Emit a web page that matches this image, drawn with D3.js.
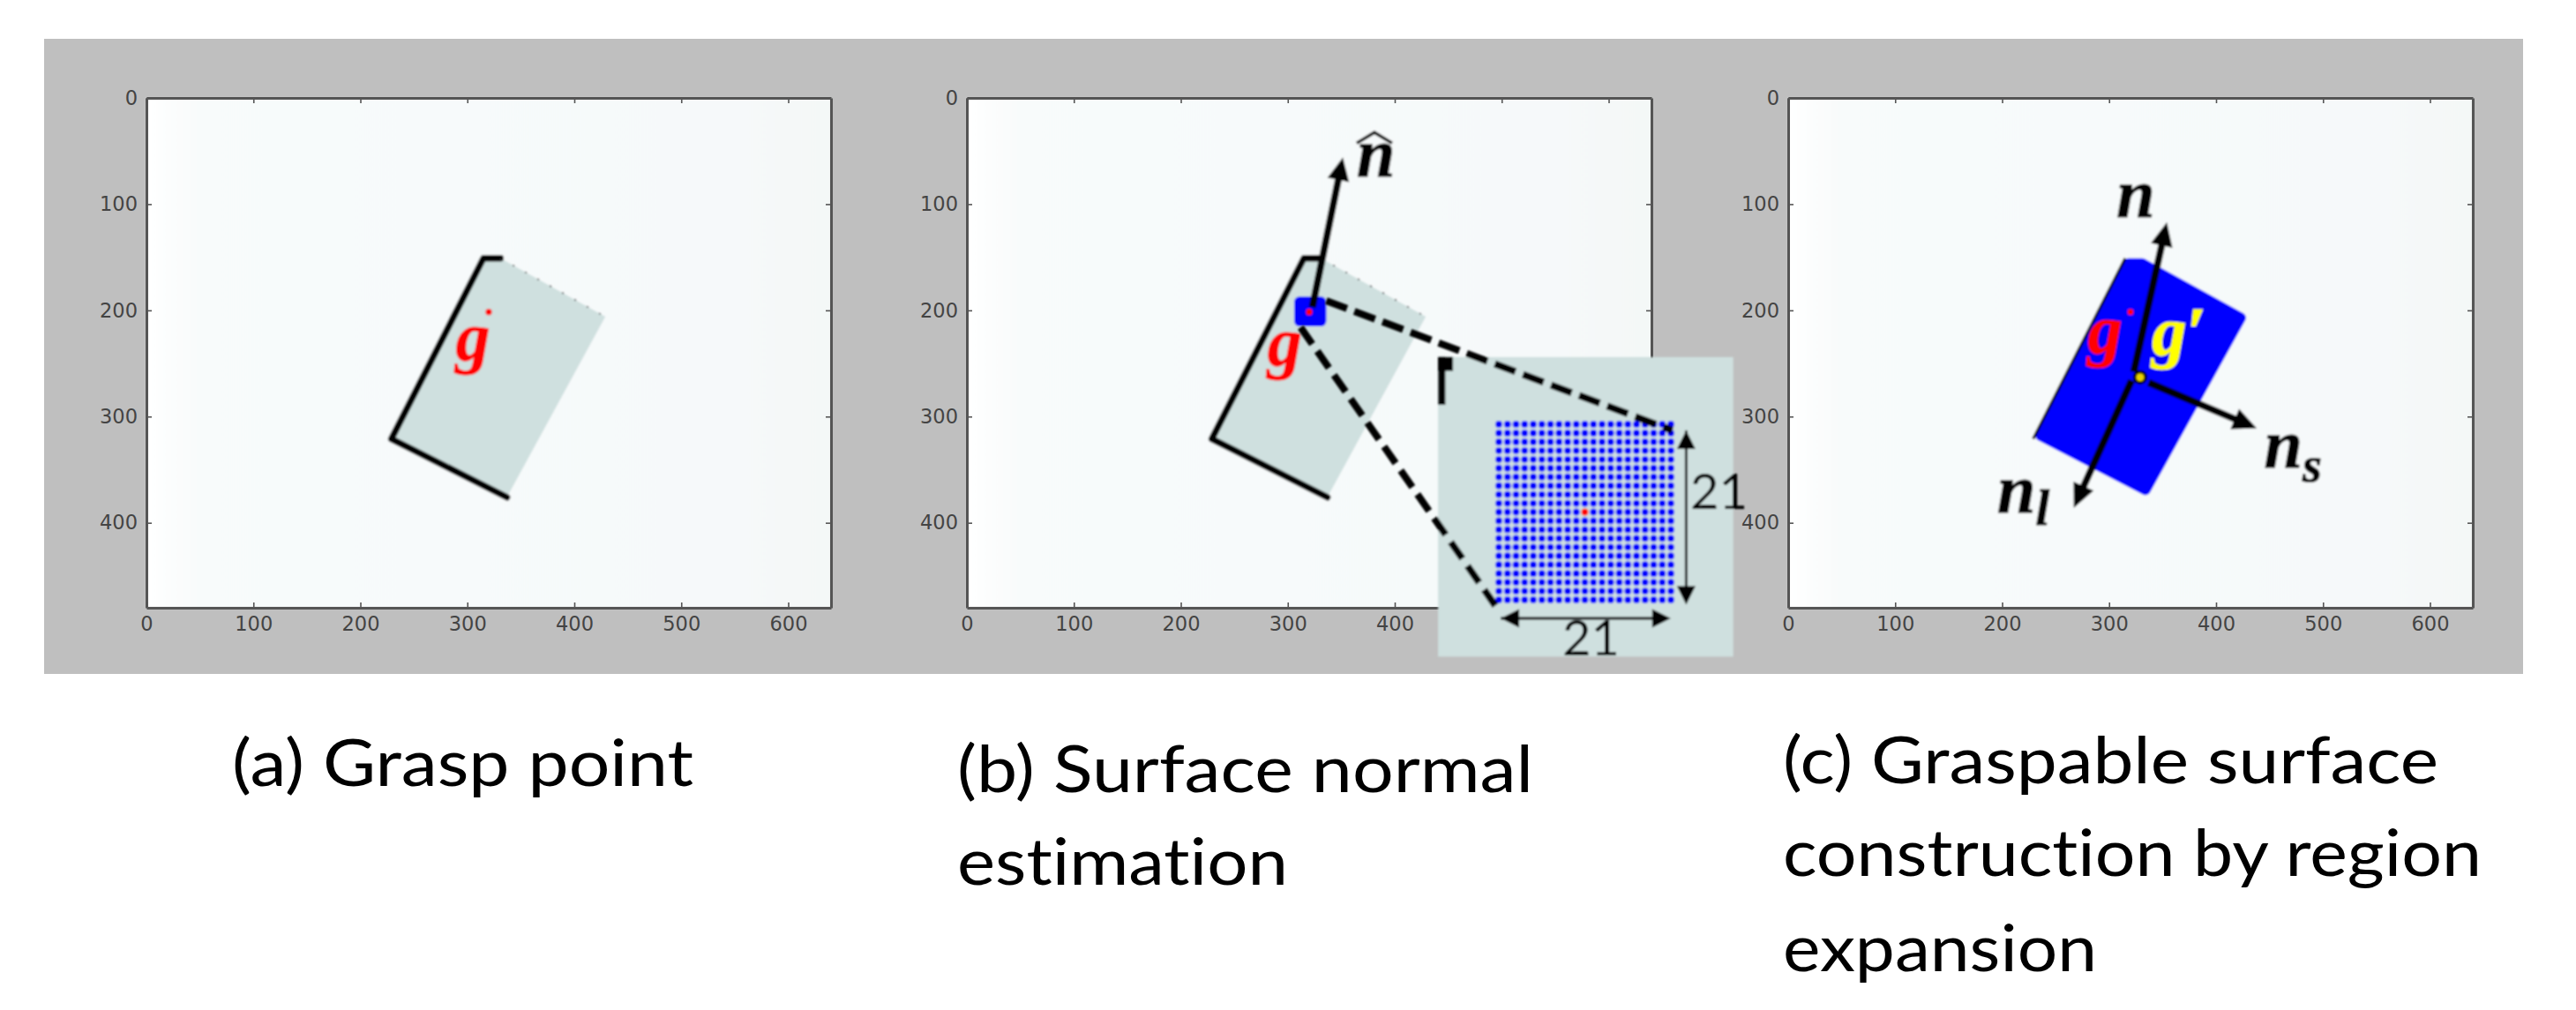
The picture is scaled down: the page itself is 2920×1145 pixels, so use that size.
<!DOCTYPE html>
<html>
<head>
<meta charset="utf-8">
<style>
  html, body { margin: 0; padding: 0; background: #fff; }
  svg { display: block; }
  .axis text { font-family: "DejaVu Sans"; font-size: 22.5px; fill: #444; }
  .axis line { stroke: #555; stroke-width: 1.6; }
  .math { font-family: "Liberation Serif"; font-style: italic; font-weight: bold; font-size: 78px; stroke-width: 1.2; }
  .caption { font-family: "Lato"; font-size: 74px; fill: #000; font-variant-ligatures: none; }
  .dim { font-family: "Lato"; font-size: 56px; fill: #000; }
</style>
<script src="https://cdn.jsdelivr.net/npm/d3@7"></script>
</head>
<body>
<svg id="chart" width="2920" height="1145"></svg>
<script>
// image coordinates, same for all three panels
const xTicks = [0, 100, 200, 300, 400, 500, 600];
const yTicks = [0, 100, 200, 300, 400];
const xTicksB = [0, 100, 200, 300, 400];   // the rest sit under the inset
const xDomain = [0, 640];
const yDomain = [0, 480];

const surface = [[315, 151], [331, 151], [429, 206], [337, 376], [229, 321]];
const surfaceGrown = [[318, 156], [331, 156], [423, 207], [334, 369], [236, 318]];
const darkEdge = [[331, 151], [315, 151], [229, 321], [337, 376]];
const dottedEdge = [[331, 151], [429, 206]];
const graspPoint = [320, 201.5];

// panel b
const patch = [[306, 187], [336, 215]];
const normalHat = [[323, 197], [351.5, 56]];
const hatMark = [[364.5, 42.5], [381, 32.5], [397.5, 42.5]];
const insetBox = [[440.5, 244], [716.5, 526]];
const insetFlag = [[440.5, 244], [454.5, 257]];
const insetStub = [[444, 244], [444, 289]];
const zoomLineTop = [[336, 191], [659.5, 313]];
const zoomLineBottom = [[312, 216], [494, 478]];
const patchIndex = [-10, -9, -8, -7, -6, -5, -4, -3, -2, -1, 0, 1, 2, 3, 4, 5, 6, 7, 8, 9, 10];
const dimV = [[672.5, 313], [672.5, 477]];
const dimH = [[499, 490], [658, 490]];

// panel c
const normalN = [[323, 258], [354, 117]];
const normalL = [[321, 266], [267, 386]];
const normalS = [[337, 268], [438, 311]];
const centerPoint = [329, 263];

const captionA = ["(a) Grasp point"];
const captionB = ["(b) Surface normal", "estimation"];
const captionC = ["(c) Graspable surface", "construction by region", "expansion"];

const svg = d3.select("#chart");
const defs = svg.append("defs");

let grad = defs.append("linearGradient").attr("id", "bgGrad");
grad.append("stop").attr("offset", "0").attr("stop-color", "#ffffff");
grad.append("stop").attr("offset", "0.08").attr("stop-color", "#f8fbfb");
grad.append("stop").attr("offset", "0.85").attr("stop-color", "#f6f9fa");
grad.append("stop").attr("offset", "1").attr("stop-color", "#f4f8f7");

defs.append("filter").attr("id", "soft")
    .append("feGaussianBlur").attr("stdDeviation", 0.8);

svg.append("rect")
    .attr("x", 50).attr("y", 44)
    .attr("width", 2810).attr("height", 720)
    .attr("fill", "#bfbfbf");

const line = d3.line();

function drawArrow(g, pts, x, y, width, headLen, headWide, bothEnds) {
    const x0 = x(pts[0][0]), y0 = y(pts[0][1]), x1 = x(pts[1][0]), y1 = y(pts[1][1]);
    const len = Math.hypot(x1 - x0, y1 - y0);
    const ux = (x1 - x0) / len, uy = (y1 - y0) / len;
    const head = (hx, hy, dx, dy) => {
        g.append("path")
            .attr("d", line([
                [hx, hy],
                [hx - dx * headLen - dy * headWide / 2, hy - dy * headLen + dx * headWide / 2],
                [hx - dx * headLen + dy * headWide / 2, hy - dy * headLen - dx * headWide / 2]
            ]) + "Z")
            .attr("fill", "#000");
    };
    g.append("line")
        .attr("x1", x0).attr("y1", y0)
        .attr("x2", x1 - ux * headLen * 0.8).attr("y2", y1 - uy * headLen * 0.8)
        .attr("stroke", "#000").attr("stroke-width", width);
    head(x1, y1, ux, uy);
    if (bothEnds) head(x0, y0, -ux, -uy);
}

function drawPanel(left, right, top, bottom, bottomTicks) {
    const x = d3.scaleLinear().domain(xDomain).range([left, right]);
    const y = d3.scaleLinear().domain(yDomain).range([top, bottom]);
    const g = svg.append("g").attr("filter", "url(#soft)");

    g.append("rect")
        .attr("x", left).attr("y", top)
        .attr("width", right - left).attr("height", bottom - top)
        .attr("fill", "url(#bgGrad)");

    const path = d3.line().x(d => x(d[0])).y(d => y(d[1]));

    // spines and ticks on all four sides, only left and bottom carry labels
    const axes = [
        [d3.axisLeft(y).tickValues(yTicks).tickPadding(10), left, 0],
        [d3.axisRight(y).tickValues(yTicks).tickFormat(""), right, 0],
        [d3.axisBottom(x).tickValues(bottomTicks).tickPadding(10), 0, bottom],
        [d3.axisTop(x).tickValues(xTicks).tickFormat(""), 0, top]
    ];
    axes.forEach(a => {
        const ax = svg.append("g")
            .attr("class", "axis")
            .attr("transform", `translate(${a[1]},${a[2]})`)
            .call(a[0].tickSizeInner(-6).tickSizeOuter(0));
        ax.select(".domain").attr("stroke", "#555").attr("stroke-width", 3);
    });
    return { g, x, y, path };
}

function drawSurface(p) {
    p.g.append("path")
        .attr("d", p.path(surface) + "Z")
        .attr("fill", "#cfe0df");
    p.g.append("path")
        .attr("d", p.path(darkEdge))
        .attr("fill", "none").attr("stroke", "#000").attr("stroke-width", 7.5)
        .attr("stroke-linejoin", "round").attr("stroke-linecap", "round");
    p.g.append("path")
        .attr("d", p.path(dottedEdge))
        .attr("fill", "none").attr("stroke", "#333").attr("stroke-width", 1.6)
        .attr("stroke-dasharray", "2 14");
}

function dot(p, pt, color, r) {
    p.g.append("circle")
        .attr("cx", p.x(pt[0])).attr("cy", p.y(pt[1]))
        .attr("r", r).attr("fill", color);
}

function mathText(p, at, str, color) {
    return p.g.append("text")
        .attr("class", "math")
        .attr("x", p.x(at[0])).attr("y", p.y(at[1]))
        .attr("fill", color)
        .attr("stroke", color)
        .text(str);
}

// (a)
const a = drawPanel(166, 942, 111, 689, xTicks);
drawSurface(a);
dot(a, graspPoint, "#ff0000", 3.6);
mathText(a, [289, 247], "g", "#ff0000");

// (b)
const b = drawPanel(1096, 1872, 111, 689, xTicksB);
drawSurface(b);
b.g.append("rect")
    .attr("x", b.x(patch[0][0])).attr("y", b.y(patch[0][1]))
    .attr("width", b.x(patch[1][0]) - b.x(patch[0][0]))
    .attr("height", b.y(patch[1][1]) - b.y(patch[0][1]))
    .attr("rx", 6)
    .attr("fill", "#0000ff");
dot(b, graspPoint, "#ff0000", 3.6);
mathText(b, [281, 252], "g", "#ff0000");
drawArrow(b.g, normalHat, b.x, b.y, 8, 26, 25);
mathText(b, [364.5, 74], "n", "#000");
b.g.append("path")
    .attr("d", b.path(hatMark))
    .attr("fill", "none").attr("stroke", "#000").attr("stroke-width", 3.5);

// zoomed inset drawn over the axes
const inset = svg.append("g").attr("filter", "url(#soft)");
inset.append("rect")
    .attr("x", b.x(insetBox[0][0])).attr("y", b.y(insetBox[0][1]))
    .attr("width", b.x(insetBox[1][0]) - b.x(insetBox[0][0]))
    .attr("height", b.y(insetBox[1][1]) - b.y(insetBox[0][1]))
    .attr("fill", "#cfe0df");
inset.append("rect")
    .attr("x", b.x(insetFlag[0][0])).attr("y", b.y(insetFlag[0][1]))
    .attr("width", b.x(insetFlag[1][0]) - b.x(insetFlag[0][0]))
    .attr("height", b.y(insetFlag[1][1]) - b.y(insetFlag[0][1]))
    .attr("fill", "#000");
inset.append("path")
    .attr("d", b.path(insetStub))
    .attr("stroke", "#000").attr("stroke-width", 8);

const patchX = d3.scaleLinear().domain([-10, 10]).range([1699, 1894]);
const patchY = d3.scaleLinear().domain([-10, 10]).range([481, 680]);
patchIndex.forEach(row => {
    inset.selectAll(null)
        .data(patchIndex)
        .enter().append("circle")
        .attr("cx", d => patchX(d))
        .attr("cy", patchY(row))
        .attr("r", 3.9)
        .attr("fill", d => (d === 0 && row === 0) ? "#ff0000" : "#0000ff");
});

[zoomLineTop, zoomLineBottom].forEach((pts, i) => {
    inset.append("path")
        .attr("d", b.path(pts))
        .attr("fill", "none")
        .attr("stroke", "#000")
        .attr("stroke-width", 8)
        .attr("stroke-dasharray", i === 0 ? "25 9" : "23 10");
});

drawArrow(inset, dimV, b.x, b.y, 3, 21, 21, true);
drawArrow(inset, dimH, b.x, b.y, 3, 21, 21, true);
inset.append("text").attr("class", "dim").attr("x", 1916).attr("y", 577).text("21");
inset.append("text").attr("class", "dim").attr("x", 1771).attr("y", 743).text("21");

// (c)
const c = drawPanel(2027, 2803, 111, 689, xTicks);
c.g.append("path")
    .attr("d", c.path(surfaceGrown) + "Z")
    .attr("fill", "#0000ff").attr("stroke", "#0000ff")
    .attr("stroke-width", 12).attr("stroke-linejoin", "round");
c.g.append("path")
    .attr("d", c.path([surface[4], surface[0]]))
    .attr("stroke", "#000").attr("stroke-width", 3);
dot(c, graspPoint, "#ff0000", 3.4);
drawArrow(c.g, normalN, c.x, c.y, 8, 27, 25);
drawArrow(c.g, normalL, c.x, c.y, 8, 27, 25);
drawArrow(c.g, normalS, c.x, c.y, 8, 27, 25);
dot(c, centerPoint, "#000", 8);
dot(c, centerPoint, "#e8d000", 4.5);
mathText(c, [280, 240], "g", "#ff0000");
mathText(c, [340, 242], "g\u2032", "#ffff00");
mathText(c, [307, 112.5], "n", "#000");
const ns = mathText(c, [445, 348], "n", "#000");
ns.append("tspan").attr("dy", 16).style("font-size", "56px").text("s");
const nl = mathText(c, [195.5, 390], "n", "#000");
nl.append("tspan").attr("dy", 14).style("font-size", "56px").text("l");

// captions, squeezed to the widths
function drawCaption(lines, xPos, baselines, widths) {
    lines.forEach((str, i) => {
        svg.append("text")
            .attr("class", "caption")
            .attr("x", xPos).attr("y", baselines[i])
            .attr("textLength", widths[i])
            .attr("lengthAdjust", "spacingAndGlyphs")
            .text(str);
    });
}
drawCaption(captionA, 263, [891], [523]);
drawCaption(captionB, 1085, [898, 1003], [653, 375]);
drawCaption(captionC, 2021, [888, 993, 1101], [743, 792, 356]);
</script>
</body>
</html>
